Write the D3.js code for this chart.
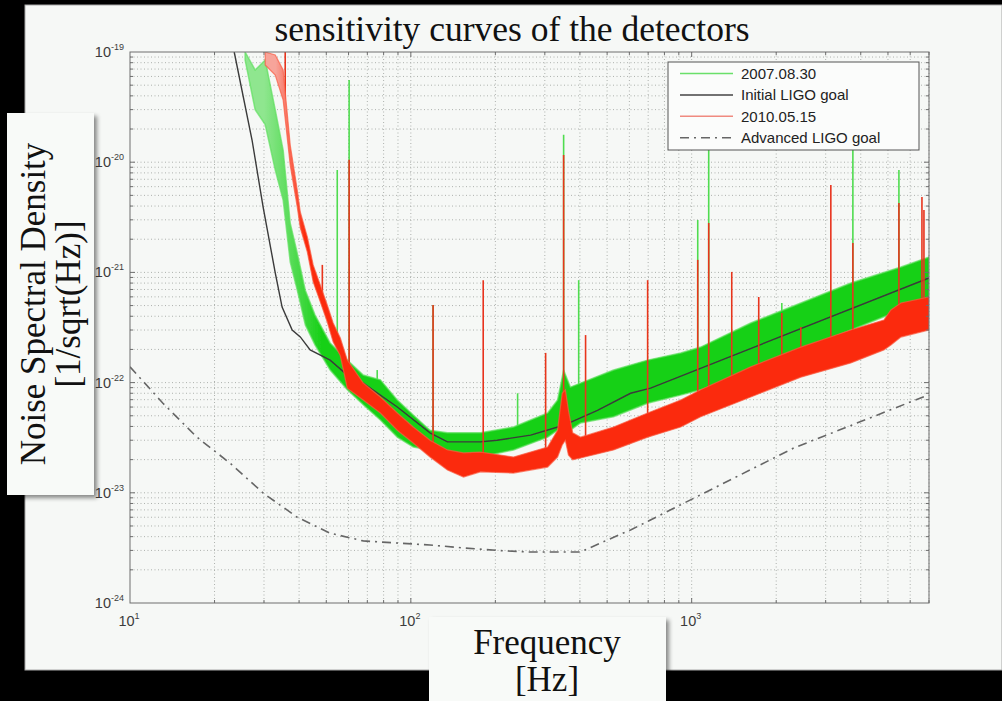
<!DOCTYPE html>
<html>
<head>
<meta charset="utf-8">
<script src="https://cdn.jsdelivr.net/npm/d3@7"></script>
<style>
  html, body { margin: 0; padding: 0; background: #000; }
  svg { display: block; }
</style>
</head>
<body>
<svg id="chart" width="1002" height="701"></svg>
<script>
// ---- Axis ticks (powers of ten) ----
const freqTicks = [10, 100, 1000];
const freqTickExp = ["1", "2", "3"];
const strainTicks = [1e-19, 1e-20, 1e-21, 1e-22, 1e-23, 1e-24];
const strainTickExp = ["-19", "-20", "-21", "-22", "-23", "-24"];

// ---- 2007.08.30 noise band: frequency [Hz], lower and upper envelope [1/sqrt(Hz)] ----
const greenFreq = [25.7, 27.9, 30.3, 32.9, 35.1, 37.2, 39.4, 42.1, 45.6, 51.6, 59.4, 67.7, 77.9, 89.5,
  102, 117, 135, 177, 232, 307, 333, 350, 370, 402, 527, 697, 914, 1077, 1623, 2447, 3688, 5560, 7000];
const greenLow = [8.46e-20, 3.0e-20, 2.2e-20, 8.5e-21, 4.54e-21, 1.24e-21, 6.9e-22, 3.33e-22, 2.19e-22,
  1.3e-22, 8.6e-23, 6.3e-23, 4.58e-23, 3.2e-23, 2.6e-23, 2.45e-23, 2.11e-23, 2.11e-23, 2.45e-23, 3.2e-23,
  3.7e-23, 4.58e-23, 3.7e-23, 4.3e-23, 4.9e-23, 6.5e-23, 7.7e-23, 8.6e-23, 1.22e-22, 1.98e-22, 3.0e-22,
  4.56e-22, 5.62e-22];
const greenHigh = [1e-19, 6.87e-20, 8.46e-20, 2.98e-20, 1.29e-20, 2.8e-21, 1.5e-21, 6.9e-22, 4.1e-22,
  2.29e-22, 1.6e-22, 1.17e-22, 1.06e-22, 6.95e-23, 5.08e-23, 3.7e-23, 3.5e-23, 3.5e-23, 3.95e-23, 5.3e-23,
  6.95e-23, 1.3e-22, 9.1e-23, 9.9e-23, 1.3e-22, 1.6e-22, 1.86e-22, 2.1e-22, 3.47e-22, 5.28e-22, 8.0e-22,
  1.12e-21, 1.38e-21];
const greenSpikeFreq = [54.7, 60.3, 75.9, 120, 240, 350, 396, 1051, 1150, 2094, 3750, 5470];
const greenSpikePeak = [8.5e-21, 5.57e-20, 1.3e-22, 5.06e-22, 8.0e-23, 1.77e-20, 8.5e-22, 2.99e-21,
  1.59e-20, 5.28e-22, 1.59e-20, 8.5e-21];

// ---- 2010.05.15 noise band ----
const redFreq = [30.3, 32.9, 35.1, 37.2, 39.4, 40.4, 42.8, 44.9, 47.6, 50.4, 52.9, 56.1, 59.4, 67.7, 77.9,
  89.5, 102, 117, 135, 154, 177, 232, 307, 333, 346, 355, 364, 377, 402, 527, 697, 914, 1077, 1623, 2447,
  3688, 4836, 5122, 5560, 7000];
const redLow = [7.62e-20, 6.18e-20, 3.67e-20, 9.4e-21, 3.92e-21, 2.53e-21, 1.53e-21, 8.2e-22, 5.4e-22,
  3.55e-22, 2.33e-22, 1.75e-22, 8.9e-23, 6.95e-23, 5.3e-23, 3.7e-23, 2.83e-23, 2.11e-23, 1.61e-23,
  1.39e-23, 1.55e-23, 1.51e-23, 1.71e-23, 2.11e-23, 2.72e-23, 3.0e-23, 2.2e-23, 1.99e-23, 2.07e-23,
  2.45e-23, 3.2e-23, 3.95e-23, 4.9e-23, 7.4e-23, 1.12e-22, 1.51e-22, 1.98e-22, 2.19e-22, 2.59e-22, 3.0e-22];
const redHigh = [1e-19, 9.4e-20, 6.87e-20, 1.43e-20, 5.6e-21, 3.53e-21, 2.1e-21, 1.17e-21, 7.7e-22,
  5.06e-22, 3.47e-22, 2.54e-22, 1.6e-22, 9.9e-23, 7.4e-23, 5.3e-23, 3.95e-23, 3.0e-23, 2.45e-23, 2.3e-23,
  2.34e-23, 2.11e-23, 2.6e-23, 3.7e-23, 8.0e-23, 8.6e-23, 5.6e-23, 3.5e-23, 3.2e-23, 3.95e-23, 5.3e-23,
  6.95e-23, 8.6e-23, 1.39e-22, 2.1e-22, 3.0e-22, 3.7e-22, 4.56e-22, 5.28e-22, 5.98e-22];
const redSpikeFreq = [35.7, 48.4, 60.3, 120, 181, 302, 350, 419, 697, 1051, 1150, 1389, 1733, 2094, 2447,
  3130, 3750, 5470, 6607, 6716];
const redSpikePeak = [1e-19, 1.17e-21, 1.05e-20, 5.06e-22, 8.5e-22, 1.86e-22, 1.16e-20, 2.7e-22, 8.5e-22,
  1.3e-21, 2.81e-21, 1.01e-21, 5.98e-22, 4.28e-22, 3.2e-22, 6.2e-21, 1.85e-21, 4.26e-21, 4.83e-21, 3.68e-21];

// ---- Initial LIGO design goal ----
const ligoFreq = [23.5, 27.2, 29.8, 32.9, 34.8, 37.8, 40.4, 43.8, 51.6, 59.4, 67.7, 89.5, 117, 135, 177,
  203, 267, 350, 462, 606, 714, 7000];
const ligoGoal = [1e-19, 1.59e-20, 3.9e-21, 9.9e-22, 4.85e-22, 3.0e-22, 2.6e-22, 1.98e-22, 1.6e-22, 1.17e-22,
  9.9e-23, 6.0e-23, 3.5e-23, 2.9e-23, 2.9e-23, 3.0e-23, 3.34e-23, 4.1e-23, 5.6e-23, 8.0e-23, 8.9e-23, 8.9e-22];

// ---- Advanced LIGO design goal ----
const advFreq = [10, 13.1, 17.3, 22.7, 29.8, 39.4, 51.6, 67.7, 89.5, 117, 154, 203, 267, 402, 485, 606,
  2310, 6930];
const advGoal = [1.39e-22, 6.5e-23, 3.2e-23, 1.86e-23, 9.95e-24, 6.0e-24, 4.3e-24, 3.66e-24, 3.5e-24,
  3.36e-24, 3.16e-24, 3.0e-24, 2.9e-24, 2.9e-24, 3.6e-24, 4.6e-24, 2.55e-23, 7.7e-23];

const legendLabels = ["2007.08.30", "Initial LIGO goal", "2010.05.15", "Advanced LIGO goal"];

// ---- Layout ----
const svg = d3.select("#chart");
const W = 1002, H = 701;
const plot = { left: 130, right: 929, top: 52, bottom: 603 };
const slideBg = "#f6f8f6";

const x = d3.scaleLog().domain([10, 7000]).range([plot.left, plot.right]);
const y = d3.scaleLog().domain([1e-24, 1e-19]).range([plot.bottom, plot.top]);

const defs = svg.append("defs");
defs.append("clipPath").attr("id", "plotClip")
  .append("rect").attr("x", plot.left).attr("y", plot.top)
  .attr("width", plot.right - plot.left).attr("height", plot.bottom - plot.top);
const shadow = defs.append("filter").attr("id", "boxShadow")
  .attr("x", "-10%").attr("y", "-10%").attr("width", "130%").attr("height", "130%");
shadow.append("feDropShadow").attr("dx", 3).attr("dy", 3).attr("stdDeviation", 2)
  .attr("flood-color", "#000").attr("flood-opacity", 0.45);
const soft = defs.append("filter").attr("id", "soft");
soft.append("feGaussianBlur").attr("stdDeviation", 0.6);

// Low-frequency parts of the traces are sparse lines, so they read lighter
function fadeGradient(id, light, full, fStart, fEnd) {
  const g = defs.append("linearGradient").attr("id", id).attr("gradientUnits", "userSpaceOnUse")
    .attr("x1", x(fStart)).attr("x2", x(fEnd)).attr("y1", 0).attr("y2", 0);
  g.append("stop").attr("offset", 0).attr("stop-color", light);
  g.append("stop").attr("offset", 1).attr("stop-color", full);
}
fadeGradient("greenFade", "#8fe68f", "#18d018", 30, 48);
fadeGradient("redFade", "#f7a49a", "#fb2a0c", 33, 42);

// Slide background on black
svg.append("rect").attr("width", W).attr("height", H).attr("fill", "#000");
svg.append("rect").attr("x", 25).attr("y", 5).attr("width", W - 25).attr("height", 665)
  .attr("fill", slideBg).attr("stroke", "#a8a8a8").attr("stroke-width", 1);

// Title
svg.append("text").attr("x", 512).attr("y", 41).attr("text-anchor", "middle")
  .attr("font-family", "'Liberation Serif', 'Times New Roman', serif").attr("font-size", 35.5)
  .attr("fill", "#111").text("sensitivity curves of the detectors");

// ---- Grid (major + minor decades, dotted) ----
const grid = svg.append("g").attr("stroke", "#adb1ad").attr("stroke-width", 1)
  .attr("stroke-dasharray", "1,2.5").attr("fill", "none");
const xMinor = [];
for (let d = 10; d < 7000; d *= 10) for (let k = 1; k <= 9; k++) { if (d * k <= 7000) xMinor.push(d * k); }
const yMinor = [];
for (let d = 1e-24; d < 1e-19 * 0.99; d *= 10) for (let k = 1; k <= 9; k++) yMinor.push(d * k);
yMinor.push(1e-19);
grid.selectAll("line.gx").data(xMinor.filter(v => v > 10)).join("line")
  .attr("x1", d => x(d)).attr("x2", d => x(d)).attr("y1", plot.top).attr("y2", plot.bottom);
grid.selectAll("line.gy").data(yMinor.filter(v => v > 1e-24 && v < 1e-19 * 0.99)).join("line")
  .attr("x1", plot.left).attr("x2", plot.right).attr("y1", d => y(d)).attr("y2", d => y(d));

// ---- Curves ----
const curves = svg.append("g").attr("clip-path", "url(#plotClip)").attr("filter", "url(#soft)");

function bandMid(freqs, lo, hi, f) {
  const lf = Math.log10(f);
  for (let i = 0; i < freqs.length - 1; i++) {
    const a = Math.log10(freqs[i]), b = Math.log10(freqs[i + 1]);
    if (lf >= a && lf <= b) {
      const t = (lf - a) / (b - a);
      const m0 = (Math.log10(lo[i]) + Math.log10(hi[i])) / 2;
      const m1 = (Math.log10(lo[i + 1]) + Math.log10(hi[i + 1])) / 2;
      return Math.pow(10, m0 + t * (m1 - m0));
    }
  }
  return lo[lo.length - 1];
}

const bandArea = d3.area().x(d => x(d.f)).y0(d => y(d.lo)).y1(d => y(d.hi));
const lineGen = d3.line().x(d => x(d.f)).y(d => y(d.v));

const greenData = greenFreq.map((f, i) => ({ f, lo: greenLow[i], hi: greenHigh[i] }));
const redData = redFreq.map((f, i) => ({ f, lo: redLow[i], hi: redHigh[i] }));

// 2007.08.30 spikes and band
curves.append("g").selectAll("line").data(greenSpikeFreq).join("line")
  .attr("x1", d => x(d)).attr("x2", d => x(d))
  .attr("y1", d => y(bandMid(greenFreq, greenLow, greenHigh, d)))
  .attr("y2", (d, i) => y(greenSpikePeak[i]))
  .attr("stroke", "#4fdc4f").attr("stroke-width", 1.6);
curves.append("path").datum(greenData).attr("d", bandArea)
  .attr("fill", "url(#greenFade)").attr("stroke", "#5fe05f").attr("stroke-width", 1.5).attr("stroke-opacity", 0.7);

// Initial LIGO goal
curves.append("path").datum(ligoFreq.map((f, i) => ({ f, v: ligoGoal[i] }))).attr("d", lineGen)
  .attr("fill", "none").attr("stroke", "#3a3a3a").attr("stroke-width", 1.4);

// 2010.05.15 spikes and band
curves.append("g").selectAll("line").data(redSpikeFreq).join("line")
  .attr("x1", d => x(d)).attr("x2", d => x(d))
  .attr("y1", d => y(bandMid(redFreq, redLow, redHigh, d)))
  .attr("y2", (d, i) => y(redSpikePeak[i]))
  .attr("stroke", "#e8341e").attr("stroke-width", 1.6);
curves.append("path").datum(redData).attr("d", bandArea)
  .attr("fill", "url(#redFade)").attr("stroke", "#fb5a40").attr("stroke-width", 1.2).attr("stroke-opacity", 0.7);

// Advanced LIGO goal
curves.append("path").datum(advFreq.map((f, i) => ({ f, v: advGoal[i] }))).attr("d", lineGen)
  .attr("fill", "none").attr("stroke", "#666").attr("stroke-width", 1.6)
  .attr("stroke-dasharray", "9,5,2,5");

// ---- Axes box and inward ticks ----
const axes = svg.append("g").attr("stroke", "#6e6e6e").attr("stroke-width", 1);
axes.append("rect").attr("x", plot.left).attr("y", plot.top)
  .attr("width", plot.right - plot.left).attr("height", plot.bottom - plot.top).attr("fill", "none");
xMinor.filter(v => v > 10).forEach(v => {
  const len = freqTicks.includes(v) ? 5 : 3;
  axes.append("line").attr("x1", x(v)).attr("x2", x(v)).attr("y1", plot.bottom).attr("y2", plot.bottom - len);
  axes.append("line").attr("x1", x(v)).attr("x2", x(v)).attr("y1", plot.top).attr("y2", plot.top + len);
});
yMinor.filter(v => v > 1e-24 && v < 1e-19 * 0.99).forEach(v => {
  const major = strainTicks.some(t => Math.abs(Math.log10(t) - Math.log10(v)) < 1e-6);
  const len = major ? 5 : 3;
  axes.append("line").attr("x1", plot.left).attr("x2", plot.left + len).attr("y1", y(v)).attr("y2", y(v));
  axes.append("line").attr("x1", plot.right).attr("x2", plot.right - len).attr("y1", y(v)).attr("y2", y(v));
});

// Tick labels (10 with superscript exponent)
const tickFont = "'Liberation Sans', Arial, Helvetica, sans-serif";
const ytl = svg.append("g").attr("font-family", tickFont).attr("fill", "#3c3c3c");
strainTicks.forEach((t, i) => {
  const tx = ytl.append("text").attr("x", 124).attr("y", y(t) + 5).attr("text-anchor", "end");
  tx.append("tspan").attr("font-size", 14.5).text("10");
  tx.append("tspan").attr("font-size", 9).attr("dy", -7).text(strainTickExp[i]);
});
const xtl = svg.append("g").attr("font-family", tickFont).attr("fill", "#3c3c3c");
freqTicks.forEach((t, i) => {
  const tx = xtl.append("text").attr("x", x(t) - 1).attr("y", 626).attr("text-anchor", "middle");
  tx.append("tspan").attr("font-size", 14.5).text("10");
  tx.append("tspan").attr("font-size", 9).attr("dy", -7).text(freqTickExp[i]);
});

// ---- Legend ----
const lg = svg.append("g");
lg.append("rect").attr("x", 668).attr("y", 62).attr("width", 251).attr("height", 88)
  .attr("fill", "#fbfcfb").attr("stroke", "#555").attr("stroke-width", 1);
const legendStyles = [
  { stroke: "#6ae06a", dash: null, w: 1.5 },
  { stroke: "#444", dash: null, w: 1.5 },
  { stroke: "#f08a80", dash: null, w: 1.5 },
  { stroke: "#666", dash: "9,5,2,5", w: 1.5 }
];
legendLabels.forEach((lab, i) => {
  const cy = 73.5 + i * 21.4;
  lg.append("line").attr("x1", 680).attr("x2", 733).attr("y1", cy).attr("y2", cy)
    .attr("stroke", legendStyles[i].stroke).attr("stroke-width", legendStyles[i].w)
    .attr("stroke-dasharray", legendStyles[i].dash);
  lg.append("text").attr("x", 741).attr("y", cy + 5.5).attr("font-family", tickFont)
    .attr("font-size", 15).attr("fill", "#222").text(lab);
});

// ---- Axis title boxes ----
const serif = "'Liberation Serif', 'Times New Roman', serif";
svg.append("rect").attr("x", 7).attr("y", 113).attr("width", 87).attr("height", 382)
  .attr("fill", "#f8faf8").attr("filter", "url(#boxShadow)");
const yl = svg.append("g").attr("transform", "translate(0,304) rotate(-90)")
  .attr("font-family", serif).attr("font-size", 35).attr("fill", "#111").attr("text-anchor", "middle");
yl.append("text").attr("x", 0).attr("y", 45).text("Noise Spectral Density");
yl.append("text").attr("x", 0).attr("y", 80).text("[1/sqrt(Hz)]");

svg.append("rect").attr("x", 429).attr("y", 617).attr("width", 237).attr("height", 100)
  .attr("fill", "#f8faf8").attr("filter", "url(#boxShadow)");
const xl = svg.append("g").attr("font-family", serif).attr("font-size", 35).attr("fill", "#111")
  .attr("text-anchor", "middle");
xl.append("text").attr("x", 547).attr("y", 654).text("Frequency");
xl.append("text").attr("x", 547).attr("y", 691).text("[Hz]");
</script>
</body>
</html>
